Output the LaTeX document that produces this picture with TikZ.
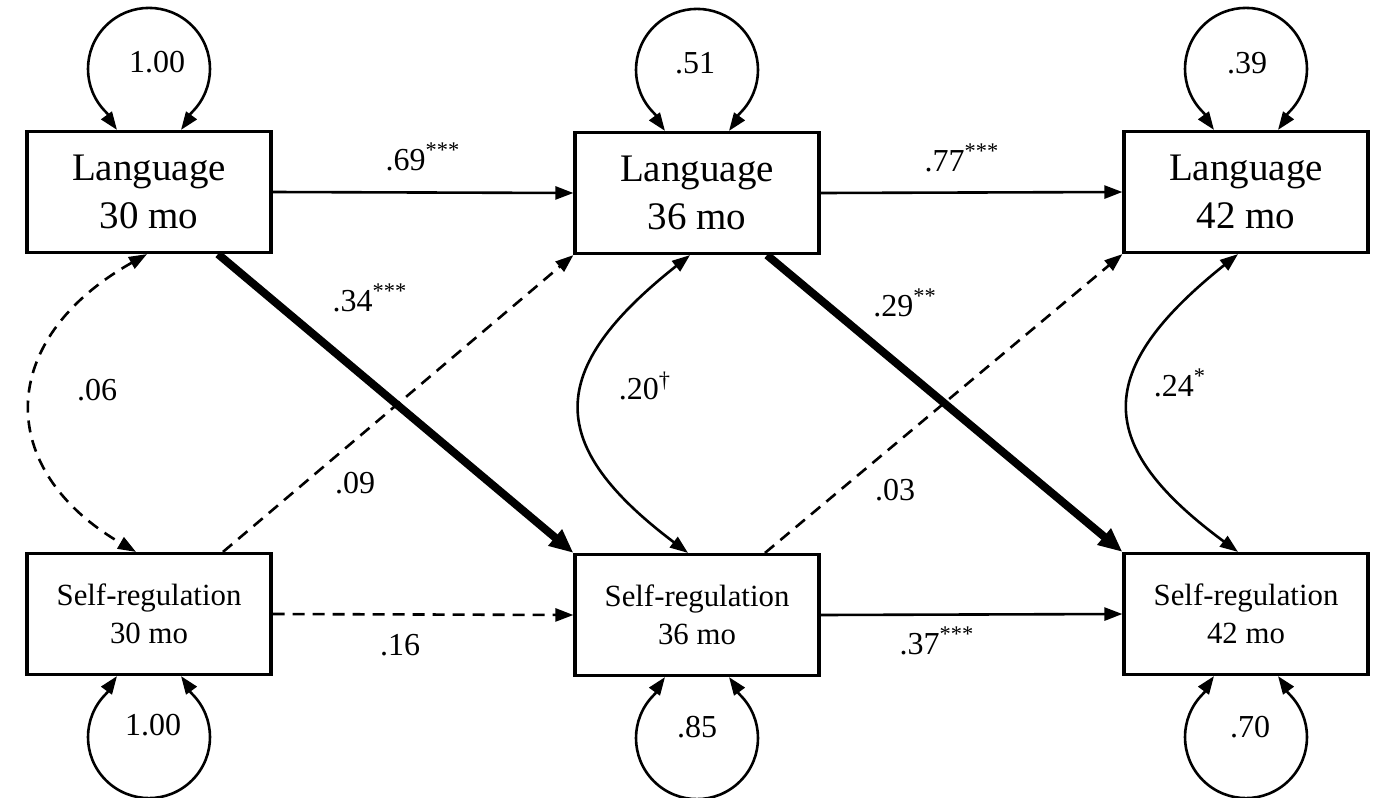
\documentclass[tikz,border=0pt]{standalone}
\usepackage{fontspec}
\setmainfont{Liberation Serif}
\usetikzlibrary{arrows.meta,calc}
% variance loop above a node
\newcommand\toploop[1]{%
  \draw[varloop] ([xshift=-16pt]#1.north) to[out=126,in=-45]
    ($([yshift=30.5pt]#1.north)+(225:30.5pt)$)
    arc[start angle=225, end angle=-45, radius=30.5pt]
    to[out=-135,in=54] ([xshift=16pt]#1.north);}
% variance loop below a node
\newcommand\botloop[1]{%
  \draw[varloop] ([xshift=-16pt]#1.south) to[out=-126,in=45]
    ($([yshift=-30.5pt]#1.south)+(135:30.5pt)$)
    arc[start angle=135, end angle=405, radius=30.5pt]
    to[out=135,in=-54] ([xshift=16pt]#1.south);}
\begin{document}
\begin{tikzpicture}[x=0.5pt,y=-0.5pt,
  box/.style={draw, line width=1.6pt, minimum width=122pt, minimum height=60.5pt,
              inner sep=0pt, align=center},
  langbox/.style={box, font=\fontsize{19.5}{24}\selectfont},
  srbox/.style={box, font=\fontsize{15.4}{19}\selectfont},
  tip/.style={-{Triangle[length=9pt,width=6.5pt]}},
  solidarrow/.style={line width=1.3pt, tip},
  dasharrow/.style={line width=1.3pt, tip, dash pattern=on 6pt off 4pt},
  heavyarrow/.style={line width=4pt, -{Triangle[length=12pt,width=10pt]}},
  covar/.style={line width=1.3pt, {Triangle[length=9pt,width=6.5pt]}-{Triangle[length=9pt,width=6.5pt]}},
  dashcovar/.style={covar, dash pattern=on 6pt off 4pt},
  varloop/.style={covar},
  lbl/.style={font=\fontsize{16}{19}\selectfont, inner sep=0pt}
]
\useasboundingbox (0,0) rectangle (1377,798);

% measured variables
\node[langbox] (L30) at (149,192) {Language\\30 mo};
\node[langbox] (L36) at (697,193) {Language\\36 mo};
\node[langbox] (L42) at (1246,192) {Language\\42 mo};
\node[srbox] (S30) at (149,614) {Self-regulation\\30 mo};
\node[srbox] (S36) at (697,615) {Self-regulation\\36 mo};
\node[srbox] (S42) at (1246,614) {Self-regulation\\42 mo};

% variances
\toploop{L30}
\toploop{L36}
\toploop{L42}
\botloop{S30}
\botloop{S36}
\botloop{S42}
\node[lbl] (vL30) at (157,62) {1.00};
\node[lbl] (vL36) at (695,63) {.51};
\node[lbl] (vL42) at (1247,63) {.39};
\node[lbl] (vS30) at (153,725) {1.00};
\node[lbl] (vS36) at (697,727) {.85};
\node[lbl] (vS42) at (1250,727) {.70};

% autoregressive paths
\draw[solidarrow] (L30.east) -- (L36.west);
\draw[solidarrow] (L36.east) -- (L42.west);
\draw[dasharrow] (S30.east) -- (S36.west);
\draw[solidarrow] (S36.east) -- (S42.west);
\node[lbl] (a1) at (423,157) {.69\textsuperscript{***}};
\node[lbl] (a2) at (962,158) {.77\textsuperscript{***}};
\node[lbl] (a3) at (400,645) {.16};
\node[lbl] (a4) at (937,641) {.37\textsuperscript{***}};

% cross-lagged paths
\draw[heavyarrow] ([xshift=34.5pt]L30.south) -- (S36.north west);
\draw[heavyarrow] ([xshift=35pt]L36.south) -- (S42.north west);
\draw[dasharrow] ([xshift=37pt]S30.north) -- (L36.south west);
\draw[dasharrow] ([xshift=34pt]S36.north) -- (L42.south west);
\node[lbl] (c1) at (370,298) {.34\textsuperscript{***}};
\node[lbl] (c2) at (905,303) {.29\textsuperscript{**}};
\node[lbl] (c3) at (355,483) {.09};
\node[lbl] (c4) at (895,490) {.03};

% within-time covariances
\draw[dashcovar] ([xshift=-1pt]L30.south) .. controls (-5,340) and (-5,470) .. ([xshift=-6.5pt]S30.north);
\draw[covar] ([xshift=-3.5pt]L36.south) .. controls (545,370) and (545,445) .. ([xshift=-4.5pt]S36.north);
\draw[covar] ([xshift=-4pt]L42.south) .. controls (1093,370) and (1093,445) .. ([xshift=-4pt]S42.north);
\node[lbl] (r1) at (97,390) {.06};
\node[lbl] (r2) at (645,386) {.20\textsuperscript{\dag}};
\node[lbl] (r3) at (1180,383) {.24\textsuperscript{*}};
\end{tikzpicture}
\end{document}
